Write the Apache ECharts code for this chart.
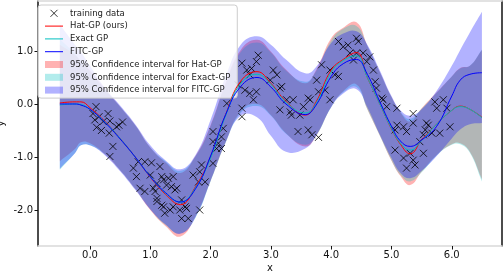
<!DOCTYPE html>
<html><head><meta charset="utf-8">
<script src="https://cdn.jsdelivr.net/npm/echarts@6/dist/echarts.min.js"></script>
<style>html,body{margin:0;padding:0;background:#fff}#c{width:504px;height:274px}</style>
</head><body><div id="c"></div>
<script>
// ---- data ----
const xs = [-0.5,-0.25,-0.15,0,0.25,0.5,0.75,1,1.25,1.5,1.75,2,2.25,2.5,2.77,3,3.25,3.57,3.75,4,4.2,4.42,4.6,4.8,5,5.15,5.31,5.5,5.75,6,6.14,6.3,6.5];
const hatMean   = [0.02,0.04,0.04,-0.07,-0.33,-0.65,-1.0,-1.38,-1.7,-1.9,-1.56,-1.0,-0.2,0.43,0.61,0.39,0.05,-0.21,0.04,0.64,0.84,0.97,0.5,0.02,-0.47,-0.76,-0.94,-0.68,-0.38,-0.12,-0.04,-0.1,-0.25];
const exactMean = [-0.02,0.0,-0.01,-0.1,-0.34,-0.65,-1.0,-1.37,-1.68,-1.85,-1.58,-1.02,-0.22,0.39,0.56,0.37,0.03,-0.17,0.01,0.6,0.82,0.91,0.5,0.02,-0.46,-0.74,-0.87,-0.69,-0.38,-0.12,-0.05,-0.1,-0.26];
const fitcMean  = [0.0,0.0,-0.02,-0.1,-0.35,-0.66,-1.0,-1.37,-1.67,-1.85,-1.6,-0.98,-0.2,0.33,0.5,0.32,0.0,-0.2,-0.02,0.52,0.76,0.84,0.56,0.06,-0.42,-0.7,-0.8,-0.68,-0.42,0.15,0.45,0.56,0.59];
const hatLo   = [-1.08,-0.85,-0.72,-0.74,-0.95,-1.25,-1.6,-2.0,-2.3,-2.5,-2.12,-1.45,-0.72,-0.14,0.0,-0.21,-0.55,-0.8,-0.6,-0.05,0.24,0.37,-0.1,-0.58,-1.07,-1.36,-1.53,-1.28,-0.96,-0.76,-0.74,-0.9,-1.42];
const hatHi   = [1.12,0.93,0.8,0.63,0.28,-0.05,-0.4,-0.82,-1.1,-1.3,-0.98,-0.4,0.4,1.02,1.21,0.99,0.65,0.39,0.64,1.24,1.44,1.54,1.1,0.62,0.13,-0.16,-0.33,-0.08,0.22,0.52,0.68,0.72,1.02];
const exactLo = [-1.24,-0.93,-0.78,-0.78,-0.95,-1.25,-1.6,-1.98,-2.28,-2.44,-2.14,-1.46,-0.73,-0.17,-0.04,-0.22,-0.56,-0.77,-0.6,-0.06,0.22,0.32,-0.1,-0.58,-1.06,-1.34,-1.46,-1.29,-0.97,-0.77,-0.76,-0.92,-1.46];
const exactHi = [1.22,0.95,0.8,0.62,0.27,-0.05,-0.4,-0.82,-1.08,-1.26,-0.99,-0.42,0.38,0.98,1.16,0.97,0.63,0.42,0.62,1.2,1.42,1.47,1.1,0.62,0.13,-0.15,-0.28,-0.09,0.21,0.52,0.67,0.72,1.03];
const fitcLo  = [-1.22,-0.93,-0.78,-0.78,-0.97,-1.27,-1.62,-1.99,-2.27,-2.45,-2.14,-1.45,-0.72,-0.22,-0.25,-0.6,-0.9,-0.84,-0.6,-0.06,0.2,0.28,-0.06,-0.56,-1.02,-1.3,-1.4,-1.26,-0.98,-0.65,-0.48,-0.38,-0.36];
const fitcHi  = [1.5,1.12,0.98,0.72,0.3,-0.03,-0.38,-0.78,-1.06,-1.23,-0.96,-0.3,0.52,1.12,1.28,1.12,0.84,0.58,0.7,1.15,1.33,1.37,1.12,0.65,0.15,-0.12,-0.22,-0.1,0.25,0.72,1.02,1.35,1.74];
const trainX = [0.1,0.05,0.08,0.15,0.22,0.3,0.33,0.44,0.48,0.54,0.11,0.19,0.32,0.38,0.33,
  0.72,0.8,0.91,1.02,0.77,0.83,0.91,1.05,1.11,1.19,1.16,1.22,1.27,1.35,1.38,1.41,1.11,1.22,1.24,1.33,1.38,1.49,1.58,1.6,1.52,1.63,1.82,1.71,1.82,1.85,1.8,1.91,2.04,2.1,2.13,2.18,2.21,2.04,2.27,2.52,1.0,1.3,1.08,1.11,1.19,2.04,2.18,1.44,1.52,
  2.79,2.76,2.68,3.04,3.1,2.99,3.18,2.76,2.71,3.26,3.15,3.32,3.34,3.48,3.54,3.62,3.65,3.45,3.62,3.68,3.79,3.84,3.98,4.06,4.12,3.76,3.79,3.98,3.9,4.12,4.2,4.28,4.31,4.42,4.45,4.42,4.53,4.37,4.59,4.64,4.7,4.73,4.75,4.84,4.86,4.92,5.09,5.06,5.2,5.25,5.36,5.72,5.86,5.75,5.92,5.61,5.56,5.67,5.8,5.97,2.52,2.6,2.65,2.46,2.57,2.65,3.15,3.37,2.52,
  5.09,5.36,5.58,5.53,5.47,5.06,5.2,5.31,5.36,5.39,5.25,5.53];
const trainY = [-0.05,-0.18,-0.3,-0.24,-0.33,-0.18,-0.32,-0.43,-0.4,-0.34,-0.44,-0.5,-0.55,-0.8,-0.99,
  -1.21,-1.09,-1.09,-1.11,-1.37,-1.59,-1.65,-1.59,-1.5,-1.37,-1.18,-1.43,-1.53,-1.56,-1.37,-1.62,-1.78,-1.94,-2.06,-2.0,-1.94,-2.0,-1.94,-1.97,-2.16,-2.16,-2.0,-1.34,-1.28,-1.15,-1.47,-1.47,-1.12,-0.84,-0.74,-0.62,-0.46,-0.52,0.01,-0.24,-1.34,-1.4,-1.65,-1.84,-1.91,-0.71,-0.84,-1.59,-1.81,
  0.92,0.8,0.67,0.64,0.55,0.45,0.33,0.23,0.08,0.08,-0.11,-0.15,-0.21,-0.21,-0.05,0.11,0.08,-0.52,-0.49,-0.58,-0.63,0.74,0.64,0.55,0.52,0.45,0.23,0.08,0.26,1.18,1.08,1.11,0.96,1.24,1.18,0.96,0.96,0.83,0.8,0.89,0.64,0.42,0.3,0.11,0.08,-0.05,-0.08,-0.49,-0.43,-0.52,-0.18,0.04,0.08,-0.08,-0.08,-0.4,-0.49,-0.55,-0.55,-0.43,0.77,0.64,0.55,0.36,0.26,0.2,0.3,0.08,-0.08,
  -0.4,-0.36,-0.36,-0.58,-0.71,-0.87,-1.02,-0.93,-1.06,-1.15,-1.21,-0.93];
const xTicks = [0,1,2,3,4,5,6];
const xTickLabels = ['0.0','1.0','2.0','3.0','4.0','5.0','6.0'];
const yTicks = [-2,-1,0,1];
const yTickLabels = ['-2.0','-1.0','0.0','1.0'];

// ---- chart ----
const FONT = 'DejaVu Sans';
const xPath = 'path://M0,0L10,10M10,0L0,10';
const linePath = 'path://M0,0H36V2H0Z';
const BAND = {hat:'rgba(255,0,0,0.3)', exact:'rgba(0,191,191,0.3)', fitc:'rgba(0,0,255,0.3)'};

function band(name, lo, hi, color) {
  return {
    type:'custom', name, silent:true, z:2,
    itemStyle:{color},
    data: xs.map((x,i)=>[x, lo[i], hi[i]]),
    encode:{x:0, y:[1,2]},
    renderItem:(params, api) => {
      if (params.dataIndex !== 0) return null;
      const up = xs.map((x,i)=>api.coord([x, hi[i]]));
      const dn = xs.map((x,i)=>api.coord([x, lo[i]])).reverse();
      const pts = [up[0]].concat(up, [up[up.length-1]], [dn[0]], dn, [dn[dn.length-1]]);
      return {type:'polygon', shape:{points:pts, smooth:0.45}, style:{fill:color}};
    }
  };
}
function meanLine(name, vals, color) {
  return {type:'line', name, data: xs.map((x,i)=>[x, vals[i]]), symbol:'none', smooth:0.45,
    lineStyle:{color, width:1}, itemStyle:{color}, z:4, silent:true};
}
const axisText = {fontFamily:FONT, fontSize:10, color:'#111'};
const xmin = -0.862, xmax = 6.833, ymin = -2.679, ymax = 1.943;

const chart = echarts.init(document.getElementById('c'), null, {renderer:'canvas'});
chart.setOption({
  animation:false,
  backgroundColor:'#fff',
  grid:{left:38, right:2, top:1, bottom:28, containLabel:false, outerBoundsMode:'none'},
  xAxis:[
    {type:'value', min:xmin, max:xmax, position:'bottom',
     axisLine:{show:true, onZero:false, lineStyle:{color:'#d9d9d9', width:1.5}},
     axisTick:{show:true, length:3.5, customValues:xTicks, lineStyle:{color:'#111', width:1}},
     axisLabel:Object.assign({customValues:xTicks, margin:4,
       formatter:v=>{const k=xTicks.indexOf(v); return k>=0?xTickLabels[k]:'';}}, axisText),
     splitLine:{show:false},
     name:'x', nameLocation:'middle', nameGap:17.5, nameMoveOverlap:false, nameTextStyle:axisText},
    {type:'value', min:xmin, max:xmax, position:'top',
     axisLine:{show:true, onZero:false, lineStyle:{color:'#d9d9d9', width:1.5}},
     axisTick:{show:false}, axisLabel:{show:false}, splitLine:{show:false}}
  ],
  yAxis:[
    {type:'value', min:ymin, max:ymax, position:'left',
     axisLine:{show:true, onZero:false, lineStyle:{color:'#111', width:1.5}},
     axisTick:{show:true, length:3.5, customValues:yTicks, lineStyle:{color:'#111', width:1}},
     axisLabel:Object.assign({customValues:yTicks, margin:5,
       formatter:v=>{const k=yTicks.indexOf(v); return k>=0?yTickLabels[k]:'';}}, axisText),
     splitLine:{show:false},
     name:'y', nameLocation:'middle', nameGap:31.5, nameMoveOverlap:false, nameTextStyle:axisText},
    {type:'value', min:ymin, max:ymax, position:'right',
     axisLine:{show:true, onZero:false, lineStyle:{color:'#111', width:1.5}},
     axisTick:{show:false}, axisLabel:{show:false}, splitLine:{show:false}}
  ],
  legend:{
    orient:'vertical', left:38, top:5, padding:[3.3,7,3,7],
    itemWidth:18, itemHeight:7, itemGap:2.8, selectedMode:false,
    backgroundColor:'rgba(255,255,255,0.8)', borderColor:'#cccccc', borderWidth:1, borderRadius:3,
    textStyle:{fontFamily:FONT, fontSize:8.5, color:'#222', lineHeight:10, padding:[0,0,0,2]},
    data:[
      {name:'training data', icon:xPath, itemStyle:{color:'rgba(0,0,0,0)', borderColor:'#000', borderWidth:1}},
      {name:'Hat-GP (ours)', icon:linePath, itemStyle:{color:'#ff0000', borderWidth:0}},
      {name:'Exact GP', icon:linePath, itemStyle:{color:'#00bfbf', borderWidth:0}},
      {name:'FITC-GP', icon:linePath, itemStyle:{color:'#0000ff', borderWidth:0}},
      {name:'95% Confidence interval for Hat-GP', icon:'rect', itemStyle:{color:BAND.hat, borderWidth:0}},
      {name:'95% Confidence interval for Exact-GP', icon:'rect', itemStyle:{color:BAND.exact, borderWidth:0}},
      {name:'95% Confidence interval for FITC-GP', icon:'rect', itemStyle:{color:BAND.fitc, borderWidth:0}}
    ]
  },
  series:[
    band('95% Confidence interval for Hat-GP', hatLo, hatHi, BAND.hat),
    band('95% Confidence interval for Exact-GP', exactLo, exactHi, BAND.exact),
    band('95% Confidence interval for FITC-GP', fitcLo, fitcHi, BAND.fitc),
    {type:'scatter', name:'training data', data: trainX.map((x,i)=>[x, trainY[i]]),
     symbol:xPath, symbolSize:7, z:3, silent:true,
     itemStyle:{color:'rgba(0,0,0,0)', borderColor:'#000', borderWidth:1}},
    meanLine('Hat-GP (ours)', hatMean, '#ff0000'),
    meanLine('Exact GP', exactMean, '#00bfbf'),
    meanLine('FITC-GP', fitcMean, '#0000ff')
  ]
});
</script>
</body></html>
